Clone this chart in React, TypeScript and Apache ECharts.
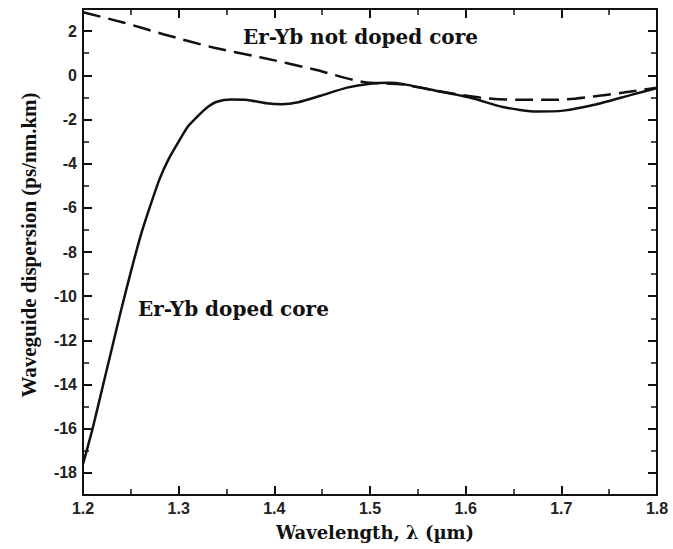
import React, { useEffect, useRef } from "react";
import * as echarts from "echarts";

const dopedX = [1.2, 1.21, 1.22, 1.23, 1.24, 1.25, 1.26, 1.27, 1.28, 1.29, 1.3, 1.31, 1.32, 1.33, 1.34, 1.355, 1.372, 1.392, 1.408, 1.425, 1.448, 1.476, 1.5, 1.52, 1.535, 1.57, 1.605, 1.64, 1.674, 1.702, 1.737, 1.772, 1.8];
const dopedY = [-17.6, -16.0, -14.2, -12.4, -10.6, -8.9, -7.3, -5.95, -4.7, -3.75, -3.0, -2.3, -1.85, -1.45, -1.2, -1.1, -1.12, -1.27, -1.31, -1.22, -0.93, -0.56, -0.38, -0.34, -0.4, -0.71, -1.02, -1.45, -1.64, -1.6, -1.31, -0.9, -0.58];

const notDopedX = [1.2, 1.242, 1.284, 1.336, 1.385, 1.44, 1.493, 1.535, 1.57, 1.615, 1.657, 1.695, 1.734, 1.765, 1.8];
const notDopedY = [2.85, 2.39, 1.86, 1.26, 0.82, 0.28, -0.3, -0.42, -0.71, -1.01, -1.11, -1.11, -0.96, -0.78, -0.56];

const yMajorTicks = [-18, -16, -14, -12, -10, -8, -6, -4, -2, 0, 2];
const yMinorTicks = [-19, -17, -15, -13, -11, -9, -7, -5, -3, -1, 1, 3];

const xTitle = "Wavelength, λ (µm)";
const yTitle = "Waveguide dispersion (ps/nm.km)";
const labelDoped = "Er-Yb doped core";
const labelNotDoped = "Er-Yb not doped core";

const W = 673;
const H = 549;

export default function App() {
  const ref = useRef<HTMLDivElement>(null);
  useEffect(() => {
    if (!ref.current) return;
    const chart = echarts.init(ref.current, undefined, { renderer: "svg" });
    const lineStyle = { color: "#111", width: 2 };
    const tickLabel = { fontFamily: "Liberation Sans", fontWeight: "bold" as const, fontSize: 16, color: "#222" };
    const yBase = { type: "value" as const, min: -19, max: 3, splitLine: { show: false } };
    const xBase = {
      type: "value" as const, min: 1.2, max: 1.8, interval: 0.1, splitLine: { show: false },
      axisLine: { show: true, onZero: false, lineStyle },
      axisTick: { show: true, inside: true, length: 9, lineStyle },
      minorTick: { show: true, splitNumber: 2, length: 6, lineStyle: { color: "#111", width: 1.5 } },
      minorSplitLine: { show: false },
    };
    chart.setOption({
      animation: false,
      backgroundColor: "#fff",
      grid: { left: 83, right: 16, top: 9, bottom: 54, containLabel: false },
      xAxis: [
        {
          ...xBase, position: "bottom",
          axisLabel: { ...tickLabel, margin: 5, formatter: (v: number) => v.toFixed(1) },
        },
        { ...xBase, position: "top", axisLabel: { show: false } },
      ],
      yAxis: [
        {
          ...yBase, position: "left",
          axisLine: { show: true, onZero: false, lineStyle },
          axisTick: { show: true, inside: true, length: 9, lineStyle, customValues: yMajorTicks },
          axisLabel: { ...tickLabel, margin: 6, customValues: yMajorTicks },
        },
        {
          ...yBase, position: "left",
          axisLine: { show: false, onZero: false },
          axisTick: { show: true, inside: true, length: 6, lineStyle: { color: "#111", width: 1.5 }, customValues: yMinorTicks },
          axisLabel: { show: false },
        },
        {
          ...yBase, position: "right",
          axisLine: { show: true, onZero: false, lineStyle },
          axisTick: { show: true, inside: true, length: 9, lineStyle, customValues: yMajorTicks },
          axisLabel: { show: false },
        },
        {
          ...yBase, position: "right",
          axisLine: { show: false, onZero: false },
          axisTick: { show: true, inside: true, length: 6, lineStyle: { color: "#111", width: 1.5 }, customValues: yMinorTicks },
          axisLabel: { show: false },
        },
      ],
      series: [
        {
          type: "line", name: labelDoped, xAxisIndex: 0, yAxisIndex: 0,
          data: dopedX.map((x, i) => [x, dopedY[i]]),
          showSymbol: false, smooth: 0.2,
          lineStyle: { color: "#111", width: 2.5 },
        },
        {
          type: "line", name: labelNotDoped, xAxisIndex: 0, yAxisIndex: 0,
          data: notDopedX.map((x, i) => [x, notDopedY[i]]),
          showSymbol: false, smooth: 0.3,
          lineStyle: { color: "#111", width: 2.5, type: [18, 8] },
        },
      ],
      graphic: [
        {
          type: "text", x: 243, y: 37,
          style: { text: labelNotDoped, fontFamily: "DejaVu Serif", fontWeight: "bold", fontSize: 20, fill: "#111", align: "left", verticalAlign: "middle" },
        },
        {
          type: "text", x: 138, y: 309,
          style: { text: labelDoped, fontFamily: "DejaVu Serif", fontWeight: "bold", fontSize: 20, fill: "#111", align: "left", verticalAlign: "middle" },
        },
        {
          type: "text", x: 375, y: 532,
          style: { text: xTitle, fontFamily: "DejaVu Serif", fontWeight: "bold", fontSize: 18, fill: "#111", align: "center", verticalAlign: "middle" },
        },
        {
          type: "text", x: 29, y: 245, rotation: Math.PI / 2,
          style: { text: yTitle, fontFamily: "Liberation Serif", fontWeight: "bold", fontSize: 21, fill: "#111", align: "center", verticalAlign: "middle" },
        },
      ],
    });
    return () => chart.dispose();
  }, []);
  return <div ref={ref} style={{ position: "absolute", left: 0, top: 0, width: W, height: H }} />;
}
